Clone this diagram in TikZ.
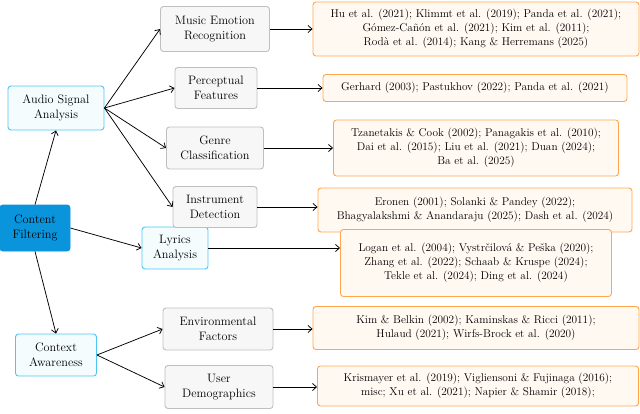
\documentclass[tikz,border=0pt]{standalone}
\usetikzlibrary{arrows.meta}
\begin{document}
\begin{tikzpicture}[x=1pt,y=-1pt,
  every node/.style={font=\fontsize{12.2}{14.5}\selectfont,align=center},
  rootbox/.style={draw=cyan!80!blue,fill=cyan!80!blue,rounded corners=3pt,line width=0.9pt,inner sep=3pt},
  catbox/.style={draw=cyan!70,fill=cyan!4,rounded corners=3pt,line width=0.9pt,inner sep=3pt},
  subbox/.style={draw=black!25,fill=black!3,rounded corners=3pt,line width=0.9pt,inner sep=3pt},
  refbox/.style={draw=orange!70,fill=orange!5,rounded corners=3pt,line width=0.9pt,inner sep=3pt,font=\fontsize{11.3}{14}\selectfont},
  conn/.style={-{Straight Barb[length=4pt,width=7pt]},line width=0.75pt}]
\useasboundingbox (0,0) rectangle (640,413);
\node[rootbox,minimum width=70pt,minimum height=46pt] (cf) at (35,228) {Content\\Filtering};
\node[catbox,minimum width=96pt,minimum height=44pt] (asa) at (56,108) {Audio Signal\\Analysis};
\node[catbox,minimum width=66pt,minimum height=42pt] (la) at (175,248) {Lyrics\\Analysis};
\node[catbox,minimum width=81pt,minimum height=42pt] (ca) at (56,355) {Context\\Awareness};
\node[subbox,minimum width=109pt,minimum height=45pt] (mer) at (215,29) {Music Emotion\\Recognition};
\node[subbox,minimum width=82pt,minimum height=41pt] (pf) at (216,88) {Perceptual\\Features};
\node[subbox,minimum width=97pt,minimum height=42pt] (gc) at (215,148) {Genre\\Classification};
\node[subbox,minimum width=84pt,minimum height=41pt] (id) at (215,207) {Instrument\\Detection};
\node[subbox,minimum width=110pt,minimum height=42pt] (ef) at (218,329) {Environmental\\Factors};
\node[subbox,minimum width=108pt,minimum height=43pt] (ud) at (219,387) {User\\Demographics};
\node[refbox,minimum width=326pt,minimum height=54pt] (rmer) at (476,29) {Hu et al. (2021); Klimmt et al. (2019); Panda et al. (2021);\\Gómez-Cañón et al. (2021); Kim et al. (2011);\\Rodà et al. (2014); Kang \& Herremans (2025)};
\node[refbox,minimum width=304pt,minimum height=27pt] (rpf) at (475,88) {Gerhard (2003); Pastukhov (2022); Panda et al. (2021)};
\node[refbox,minimum width=285pt,minimum height=56pt] (rgc) at (476,148) {Tzanetakis \& Cook (2002); Panagakis et al. (2010);\\Dai et al. (2015); Liu et al. (2021); Duan (2024);\\Ba et al. (2025)};
\node[refbox,minimum width=314pt,minimum height=44pt] (rid) at (475,210) {Eronen (2001); Solanki \& Pandey (2022);\\Bhagyalakshmi \& Anandaraju (2025); Dash et al. (2024)};
\node[refbox,minimum width=271pt,minimum height=67pt] (rla) at (476,263) {Logan et al. (2004); Vystrčilová \& Peška (2020);\\Zhang et al. (2022); Schaab \& Kruspe (2024);\\Tekle et al. (2024); Ding et al. (2024)};
\node[refbox,minimum width=326pt,minimum height=43pt] (ref) at (476,328) {Kim \& Belkin (2002); Kaminskas \& Ricci (2011);\\Hulaud (2021); Wirfs-Brock et al. (2020)};
\node[refbox,minimum width=321pt,minimum height=40pt] (rud) at (478,386) {Krismayer et al. (2019); Vigliensoni \& Fujinaga (2016);\\misc; Xu et al. (2021); Napier \& Shamir (2018);};
\draw[conn] (cf.north) -- (asa.south);
\draw[conn] (cf.east) -- (la.west);
\draw[conn] (cf.south) -- (ca.north);
\foreach \c in {mer,pf,gc,id} \draw[conn] (asa.east) -- (\c.west);
\draw[conn] (ca.east) -- (ef.west);
\draw[conn] (ca.east) -- (ud.west);
\foreach \a/\b in {mer/rmer,pf/rpf,gc/rgc,id/rid,la/rla,ef/ref,ud/rud}
  \draw[conn] (\a.east) -- (\a.east -| \b.west);
\end{tikzpicture}
\end{document}
